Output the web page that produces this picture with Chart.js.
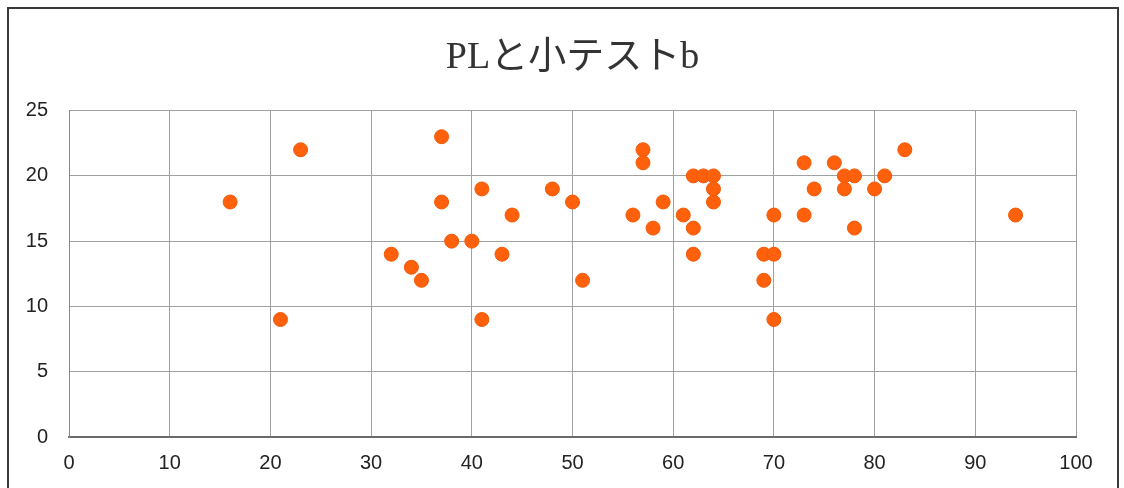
<!DOCTYPE html>
<html>
<head>
<meta charset="utf-8">
<script src="https://cdn.jsdelivr.net/npm/chart.js@4/dist/chart.umd.min.js"></script>
<style>
  html, body { margin: 0; padding: 0; background: #fff; }
  #frame { position: absolute; left: 7px; top: 7px; width: 1112px; height: 520px; border: 2px solid #3a3a3a; box-sizing: border-box; }
  #wrap { position: absolute; left: 0; top: 0; width: 1124px; height: 488px; }
</style>
</head>
<body>
<div id="frame"></div>
<div id="wrap"><canvas id="chart" width="1124" height="488"></canvas></div>
<script>
// PLと小テストb の散布図
const titleText = 'PLと小テストb';

// PL の点数 (横軸)
const plScores = [16, 21, 23, 32, 34, 35, 37, 37, 38, 40, 41, 41, 43, 44, 48, 50, 51,
  56, 57, 57, 58, 59, 61, 62, 62, 62, 63, 64, 64, 64, 69, 69, 70, 70, 70,
  73, 73, 74, 76, 77, 77, 78, 78, 80, 81, 83, 94];
// 小テストb の点数 (縦軸)
const testB = [18, 9, 22, 14, 13, 12, 23, 18, 15, 15, 19, 9, 14, 17, 19, 18, 12,
  17, 22, 21, 16, 18, 17, 20, 16, 14, 20, 20, 19, 18, 14, 12, 17, 14, 9,
  21, 17, 19, 21, 20, 19, 20, 16, 19, 20, 22, 17];

const xTicks = [0, 10, 20, 30, 40, 50, 60, 70, 80, 90, 100];
const yTicks = [0, 5, 10, 15, 20, 25];

const points = plScores.map((x, i) => ({ x: x, y: testB[i] }));

new Chart(document.getElementById('chart').getContext('2d'), {
  type: 'scatter',
  data: {
    datasets: [{
      data: points,
      backgroundColor: '#ff600c',
      borderColor: '#f05a08',
      borderWidth: 1,
      pointRadius: 7,
      pointHoverRadius: 7
    }]
  },
  options: {
    responsive: false,
    animation: false,
    layout: { padding: { left: 0, right: 48, top: 0, bottom: 0 } },
    plugins: {
      legend: { display: false },
      tooltip: { enabled: false },
      title: {
        display: true,
        text: titleText,
        fullSize: false, // プロット領域の上で中央揃え
        color: '#333',
        font: { family: '"Liberation Serif", "DejaVu Serif", "Noto Sans CJK JP", serif', size: 38, weight: 'normal' },
        padding: { top: 35, bottom: 30 }
      }
    },
    scales: {
      x: {
        type: 'linear',
        min: 0, max: 100,
        afterBuildTicks: ax => { ax.ticks = xTicks.map(v => ({ value: v })); },
        afterFit: ax => { ax.height = 51; },
        grid: { color: '#a0a0a0', lineWidth: 1, drawTicks: false },
        border: { color: '#6a6a6a', width: 2 },
        ticks: {
          color: '#222',
          padding: 14,
          font: { family: '"Liberation Sans", Arial, sans-serif', size: 20 }
        }
      },
      y: {
        type: 'linear',
        min: 0, max: 25,
        afterBuildTicks: ax => { ax.ticks = yTicks.map(v => ({ value: v })); },
        afterFit: ax => { ax.width = 69; },
        grid: { color: '#a0a0a0', lineWidth: 1, drawTicks: false },
        border: { color: '#8a8a8a', width: 1 },
        ticks: {
          color: '#222',
          padding: 21,
          font: { family: '"Liberation Sans", Arial, sans-serif', size: 20 }
        }
      }
    }
  }
});
</script>
</body>
</html>
